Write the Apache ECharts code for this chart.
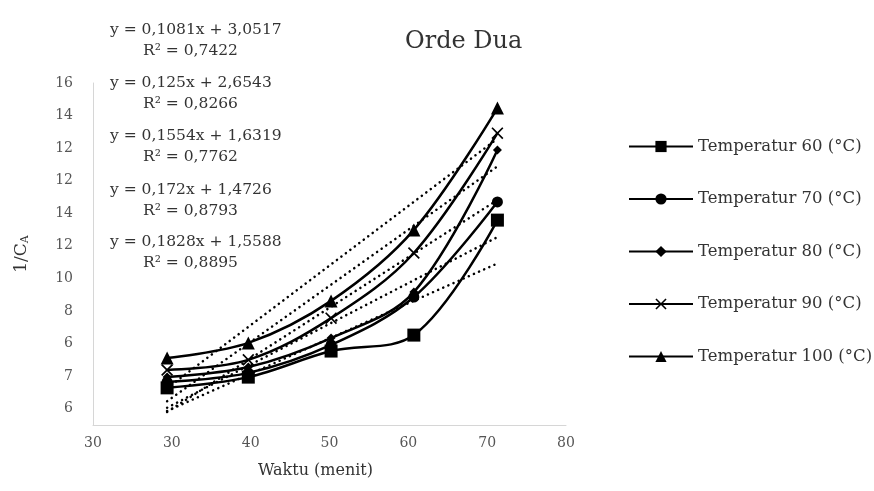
<!DOCTYPE html>
<html>
<head>
<meta charset="utf-8">
<title>Orde Dua</title>
<script src="https://cdn.jsdelivr.net/npm/echarts@6/dist/echarts.min.js"></script>
<style>
  html, body { margin: 0; padding: 0; background: #fff; }
  #chart { width: 874px; height: 491px; }
</style>
</head>
<body>
<div id="chart"></div>
<script>
// waktu (menit) for each measurement
const waktu = [29.4, 39.7, 50.2, 60.7, 71.3]

// 1/CA, one array per temperature
const temp60 = [6.64, 6.97, 7.77, 8.26, 11.79]
const temp70 = [6.82, 7.10, 7.96, 9.43, 12.35]
const temp80 = [6.97, 7.28, 8.17, 9.58, 13.94]
const temp90 = [7.19, 7.50, 8.78, 10.78, 14.46]
const temp100 = [7.56, 8.02, 9.31, 11.49, 15.23]

// dotted linear trendlines: value at first and last waktu
const trendStart = [5.93, 6.03, 5.90, 6.23, 6.63]
const trendEnd = [10.46, 11.27, 12.41, 13.44, 14.29]

const seriesNames = [
  'Temperatur 60 (°C)',
  'Temperatur 70 (°C)',
  'Temperatur 80 (°C)',
  'Temperatur 90 (°C)',
  'Temperatur 100 (°C)',
]

const equations = [
  ['y = 0,1081x + 3,0517', 'R² = 0,7422'],
  ['y = 0,125x + 2,6543', 'R² = 0,8266'],
  ['y = 0,1554x + 1,6319', 'R² = 0,7762'],
  ['y = 0,172x + 1,4726', 'R² = 0,8793'],
  ['y = 0,1828x + 1,5588', 'R² = 0,8895'],
]

// tick labels as printed in the figure
const xTicks = [20, 30, 40, 50, 60, 70, 80]
const xLabels = ['30', '30', '40', '50', '60', '70', '80']
const yTicks = [6, 7, 8, 9, 10, 11, 12, 13, 14, 15, 16]
const yLabels = ['6', '7', '6', '8', '10', '12', '14', '12', '12', '14', '16']

const serif = '"DejaVu Serif", "Liberation Serif", serif'

const crossPath = 'path://M0,1 L1,0 L5,4 L9,0 L10,1 L6,5 L10,9 L9,10 L5,6 L1,10 L0,9 L4,5 Z'
const symbols = ['rect', 'circle', 'diamond', crossPath, 'triangle']
const symbolSizes = [13, 11, 9, 12, 13]
const values = [temp60, temp70, temp80, temp90, temp100]

const tickText = (ticks, labels, v) => {
  const k = ticks.indexOf(v)
  return k < 0 ? '' : labels[k]
}

const chart = echarts.init(document.getElementById('chart'))

const dataSeries = values.map((vals, i) => ({
  name: seriesNames[i],
  type: 'line',
  smooth: 0.35,
  symbol: symbols[i],
  symbolSize: symbolSizes[i],
  showSymbol: true,
  itemStyle: { color: '#000' },
  lineStyle: { color: '#000', width: 2.5 },
  data: waktu.map((x, j) => [x, vals[j]]),
  z: 3,
}))

const trendSeries = values.map((vals, i) => ({
  name: 'trend ' + seriesNames[i],
  type: 'line',
  symbol: 'none',
  silent: true,
  lineStyle: { color: '#000', width: 2.5, type: [0.1, 5.5], cap: 'round' },
  data: [[waktu[0], trendStart[i]], [waktu[waktu.length - 1], trendEnd[i]]],
  z: 2,
}))

const eqGraphics = []
const eqTop = [32, 85, 138, 192, 244]
equations.forEach((eq, i) => {
  eqGraphics.push({
    type: 'text', left: 110, top: eqTop[i] - 10,
    style: { text: eq[0], font: '15.5px ' + serif, fill: '#333' },
  })
  eqGraphics.push({
    type: 'text', left: 143, top: eqTop[i] + 11,
    style: { text: eq[1], font: '15.5px ' + serif, fill: '#333' },
  })
})

chart.setOption({
  backgroundColor: '#fff',
  animation: false,
  title: {
    text: 'Orde Dua',
    left: 400,
    top: 25,
    textStyle: { fontFamily: serif, fontSize: 24, fontWeight: 'normal', color: '#333' },
  },
  legend: {
    data: seriesNames,
    orient: 'vertical',
    left: 623,
    top: 133,
    itemWidth: 64,
    itemHeight: 14,
    itemGap: 35.5,
    textStyle: { fontFamily: serif, fontSize: 16.5, color: '#333' },
  },
  grid: { left: 93, right: 308, top: 83, bottom: 66 },
  xAxis: {
    type: 'value',
    min: 20,
    max: 80,
    interval: 10,
    name: 'Waktu (menit)',
    nameLocation: 'middle',
    nameGap: 38,
    nameTextStyle: { fontFamily: serif, fontSize: 16, color: '#333', padding: [0, 28, 0, 0] },
    axisLine: { lineStyle: { color: '#d6d6d6', width: 1 } },
    axisTick: { show: false },
    splitLine: { show: false },
    axisLabel: {
      customValues: xTicks,
      hideOverlap: false,
      showMinLabel: true,
      showMaxLabel: true,
      fontFamily: serif,
      fontSize: 14,
      color: '#555',
      margin: 11,
      formatter: v => tickText(xTicks, xLabels, v),
    },
  },
  yAxis: {
    type: 'value',
    min: 5.5,
    max: 16,
    name: '1/C{sub|A}',
    nameLocation: 'middle',
    nameGap: 62,
    nameRotate: 90,
    nameTextStyle: {
      fontFamily: serif,
      fontSize: 17,
      color: '#333',
      rich: { sub: { fontFamily: serif, fontSize: 11, color: '#333', verticalAlign: 'bottom', padding: [8, 0, 0, 0] } },
    },
    axisLine: { show: true, lineStyle: { color: '#d6d6d6', width: 1 } },
    axisTick: { show: false },
    splitLine: { show: false },
    axisLabel: {
      customValues: yTicks,
      hideOverlap: false,
      fontFamily: serif,
      fontSize: 14,
      color: '#555',
      margin: 20,
      formatter: v => tickText(yTicks, yLabels, v),
    },
  },
  graphic: eqGraphics,
  series: [...trendSeries, ...dataSeries],
})
</script>
</body>
</html>
